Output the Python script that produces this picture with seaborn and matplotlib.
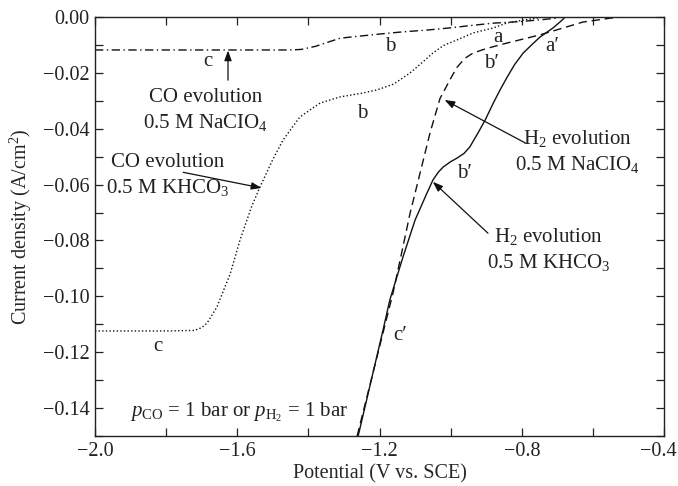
import numpy as np
import pandas as pd
import matplotlib
matplotlib.use("Agg")
import matplotlib.pyplot as plt
import matplotlib.transforms as mtransforms
from matplotlib.ticker import MultipleLocator, FuncFormatter
import seaborn as sns

# CO evolution, 0.5 M NaClO4 (dash-dot)
co_naclo4_v = [-2.0, -1.80, -1.60, -1.45, -1.42, -1.38, -1.34, -1.311, -1.283, -1.20,
               -1.142, -1.06, -1.002, -0.94, -0.88, -0.80, -0.74, -0.70]
co_naclo4_j = [-0.0118, -0.0118, -0.0118, -0.0118, -0.0116, -0.0105, -0.0088, -0.0076, -0.0072, -0.0061,
               -0.0054, -0.0046, -0.0039, -0.0030, -0.0022, -0.0016, -0.0009, -0.0004]

# CO evolution, 0.5 M KHCO3 (dotted)
co_khco3_v = [-2.0, -1.80, -1.72, -1.70, -1.685, -1.657, -1.62, -1.592, -1.56, -1.536,
              -1.50, -1.471, -1.424, -1.367, -1.311, -1.25, -1.207, -1.16, -1.114, -1.08,
              -1.05, -1.02, -0.982, -0.937, -0.88, -0.841, -0.78, -0.75]
co_khco3_j = [-0.1124, -0.1124, -0.1122, -0.1112, -0.1096, -0.1038, -0.0920, -0.0798, -0.0680, -0.0608,
              -0.0510, -0.0440, -0.0358, -0.0308, -0.0286, -0.0273, -0.0261, -0.0240, -0.0200, -0.0163,
              -0.0129, -0.0102, -0.0082, -0.0057, -0.0039, -0.0021, -0.0008, -0.0003]

# H2 evolution, 0.5 M NaClO4 (dashed)
h2_naclo4_v = [-1.263, -1.19, -1.162, -1.137, -1.114, -1.086, -1.058, -1.03, -1.00, -0.982,
               -0.96, -0.937, -0.90, -0.841, -0.749, -0.628, -0.55, -0.52]
h2_naclo4_j = [-0.150, -0.113, -0.0988, -0.0840, -0.0702, -0.0559, -0.0415, -0.0292, -0.0220, -0.0180,
               -0.0148, -0.0129, -0.0113, -0.0093, -0.0064, -0.0018, -0.0004, 0.0]

# H2 evolution, 0.5 M KHCO3 (solid)
h2_khco3_v = [-1.26, -1.19, -1.171, -1.134, -1.10, -1.07, -1.05, -1.035, -1.021, -1.00,
              -0.982, -0.962, -0.946, -0.923, -0.903, -0.88, -0.861, -0.841, -0.82, -0.796,
              -0.77, -0.749, -0.73, -0.712, -0.69, -0.678]
h2_khco3_j = [-0.150, -0.112, -0.1013, -0.0859, -0.0727, -0.0640, -0.0584, -0.0556, -0.0537, -0.0518,
              -0.0505, -0.0488, -0.0465, -0.0415, -0.0369, -0.0308, -0.0261, -0.0215, -0.0170, -0.0129,
              -0.0097, -0.0072, -0.0055, -0.0039, -0.0015, 0.0]

curve_names = ["co_naclo4", "co_khco3", "h2_naclo4", "h2_khco3"]

frames = []
for name, v, j in [("co_naclo4", co_naclo4_v, co_naclo4_j),
                   ("co_khco3", co_khco3_v, co_khco3_j),
                   ("h2_naclo4", h2_naclo4_v, h2_naclo4_j),
                   ("h2_khco3", h2_khco3_v, h2_khco3_j)]:
    frames.append(pd.DataFrame({"potential": v, "current": j, "curve": name}))
df = pd.concat(frames, ignore_index=True)

sns.set_style("ticks")
serif = "Liberation Serif"
plt.rcParams["font.family"] = [serif, "DejaVu Serif"]
plt.rcParams["mathtext.fontset"] = "custom"
plt.rcParams["mathtext.rm"] = serif
plt.rcParams["mathtext.it"] = serif + ":italic"
plt.rcParams["mathtext.bf"] = serif + ":bold"
plt.rcParams["axes.edgecolor"] = "#222222"
plt.rcParams["text.color"] = "#222222"

fig = plt.figure(figsize=(6.78, 4.86), dpi=100)
ax = fig.add_axes([0.1401, 0.1029, 0.8393, 0.8621])

dash_map = {
    "co_naclo4": (6, 2.5, 1, 2.5),
    "co_khco3": (1, 1.6),
    "h2_naclo4": (6, 3.5),
    "h2_khco3": "",
}
sns.lineplot(data=df, x="potential", y="current", style="curve", dashes=dash_map,
             style_order=curve_names, color="#111111", linewidth=1.0, sort=False,
             estimator=None, legend=False, ax=ax)

ax.set_xlim(-2.0, -0.4)
ax.set_ylim(-0.15, 0.0)
ax.set_xticks([-2.0, -1.6, -1.2, -0.8, -0.4])
ax.xaxis.set_minor_locator(MultipleLocator(0.2))
ax.yaxis.set_major_locator(MultipleLocator(0.02))
ax.yaxis.set_minor_locator(MultipleLocator(0.01))


def fmt_x(val, pos):
    return f"{val:.1f}".replace("-", "\u2212")


def fmt_y(val, pos):
    s = f"{val:.2f}"
    if s == "-0.00":
        s = "0.00"
    return s.replace("-", "\u2212")


ax.xaxis.set_major_formatter(FuncFormatter(fmt_x))
ax.yaxis.set_major_formatter(FuncFormatter(fmt_y))
ax.tick_params(which="both", direction="in", top=True, right=True, length=5.5,
               width=0.9, labelsize=14.5, colors="#222222")
ax.tick_params(which="major", pad=4)
for sp in ax.spines.values():
    sp.set_linewidth(1.0)

ax.set_xlabel("Potential (V vs. SCE)", fontsize=14.5, labelpad=3)
ax.set_ylabel("Current density (A/cm$^2$)", fontsize=14.5, labelpad=6)

fs = 15
# curve letters
letters = [
    ("c", -1.682, -0.0161),
    ("b", -1.171, -0.0107),
    ("b", -1.249, -0.0344),
    ("a", -0.867, -0.0072),
    ("a\u2032", -0.715, -0.0107),
    ("b\u2032", -0.885, -0.0165),
    ("b\u2032", -0.962, -0.0559),
    ("c\u2032", -1.142, -0.1139),
    ("c", -1.823, -0.1180),
]
for txt, x, y in letters:
    ax.text(x, y, txt, fontsize=fs, ha="center", va="center")

arrow_kw = dict(arrowstyle="-|>,head_length=0.6,head_width=0.22", color="#111111",
                lw=0.9, shrinkA=0, shrinkB=0)

ax.annotate("", xy=(-1.626, -0.0120), xytext=(-1.626, -0.0226), arrowprops=arrow_kw)
ax.text(-1.69, -0.0336, "CO evolution\n0.5 M NaCIO$_4$", fontsize=fs, ha="center",
        va="center", linespacing=1.3)

ax.annotate("", xy=(-1.532, -0.0612), xytext=(-1.752, -0.0556), arrowprops=arrow_kw)
ax.text(-1.797, -0.0568, "CO evolution\n0.5 M KHCO$_3$", fontsize=fs, ha="center",
        va="center", linespacing=1.3)

ax.annotate("", xy=(-1.017, -0.0297), xytext=(-0.79, -0.0451), arrowprops=arrow_kw)
ax.text(-0.643, -0.0482, "H$_2$ evolution\n0.5 M NaCIO$_4$", fontsize=fs, ha="center",
        va="center", linespacing=1.3)

ax.annotate("", xy=(-1.050, -0.0590), xytext=(-0.895, -0.0774), arrowprops=arrow_kw)
ax.text(-0.725, -0.0833, "H$_2$ evolution\n0.5 M KHCO$_3$", fontsize=fs, ha="center",
        va="center", linespacing=1.3)

ax.text(-1.595, -0.1414, r"$p_{\mathrm{CO}}$ = 1 bar or $p_{\mathrm{H_2}}$ = 1 bar",
        fontsize=fs, ha="center", va="center")

# keep the rightmost x tick label inside the figure
fig.canvas.draw()
for tick in ax.xaxis.get_major_ticks():
    if abs(tick.get_loc() - (-0.4)) < 1e-6:
        lbl = tick.label1
        lbl.set_transform(lbl.get_transform()
                          + mtransforms.ScaledTranslation(-4 / 72, 0, fig.dpi_scale_trans))

fig.savefig("out.png", dpi=100)
